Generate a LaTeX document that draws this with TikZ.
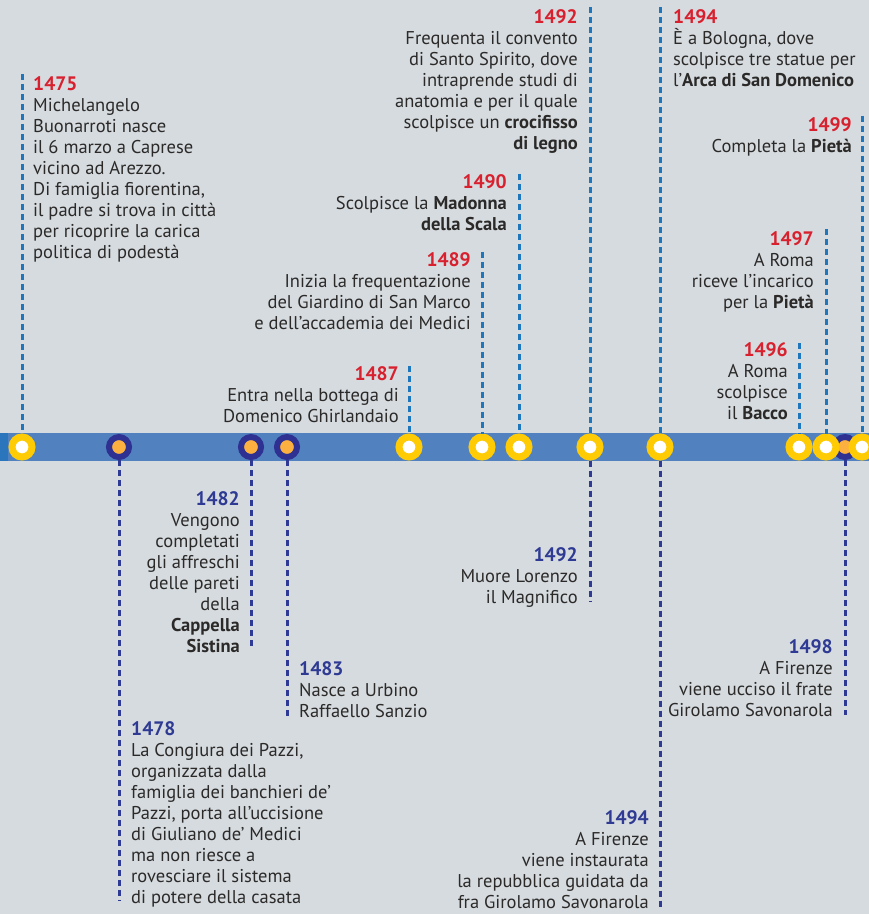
\documentclass[tikz,border=0pt]{standalone}
\usepackage{fontspec}
\setmainfont{PT Sans}
\usetikzlibrary{positioning}

\definecolor{bgGray}{HTML}{D6DBDF}
\definecolor{barBlue}{HTML}{5281C0}
\definecolor{barEdge}{HTML}{2A75BB}
\definecolor{topLine}{HTML}{1E76BD}
\definecolor{botLine}{HTML}{2E3A93}
\definecolor{yearRed}{HTML}{D8202E}
\definecolor{yearNavy}{HTML}{2E3A93}
\definecolor{ringYellow}{HTML}{FFCB05}
\definecolor{ringNavy}{HTML}{2E3192}
\definecolor{dotOrange}{HTML}{FBB040}
\definecolor{txtGray}{HTML}{2B2A29}

\newcommand{\yred}[1]{{\fontsize{19.5}{21}\selectfont\textcolor{yearRed}{\textbf{#1}}}}
\newcommand{\ynavy}[1]{{\fontsize{19.5}{21}\selectfont\textcolor{yearNavy}{\textbf{#1}}}}

\begin{document}
\begin{tikzpicture}[
    % GLOBAL CFG
    x=1pt, y=-1pt,
    font=\fontsize{18.5}{21}\selectfont,
    % Styles
    ylw/.style={% yellow marker on the bar
        circle,
        draw=ringYellow,
        fill=white,
        line width=7pt,
        minimum size=20pt,
        inner sep=0pt,
        },
    nvy/.style={% navy marker on the bar
        circle,
        draw=ringNavy,
        fill=dotOrange,
        line width=6pt,
        minimum size=20pt,
        inner sep=0pt,
        },
    upline/.style={% dashed lines above the bar
        draw=topLine,
        line width=3pt,
        dash pattern=on 6pt off 4pt,
        },
    downline/.style={% dashed lines below the bar
        draw=botLine,
        line width=3pt,
        dash pattern=on 6pt off 4pt,
        },
    evR/.style={% text flushed right
        inner sep=0pt,
        align=right,
        anchor=north east,
        text=txtGray,
        },
    evL/.style={% text flushed left
        inner sep=0pt,
        align=left,
        anchor=north west,
        text=txtGray,
        },
    ]

%Background and bar
    \fill[bgGray] (0,0) rectangle (869,914);
    \useasboundingbox (0,0) rectangle (869,914);
    \fill[barBlue] (0,433) rectangle (869,461);
    \fill[barEdge] (0,433) rectangle (8,461);

    % Markers, navy ones first (they lie under the yellow ones)
    \node [nvy] (m1478) at (119,447) {};
    \node [nvy] (m1482) at (251,447) {};
    \node [nvy] (m1483) at (287,447) {};
    \node [nvy] (m1498) at (845,447) {};
    \node [ylw] (m1475) at (22,447) {};
    \node [ylw] (m1487) at (409,447) {};
    \node [ylw] (m1489) at (482,447) {};
    \node [ylw] (m1490) at (519,447) {};
    \node [ylw] (m1492) at (590,447) {};
    \node [ylw] (m1494) at (660,447) {};
    \node [ylw] (m1496) at (799,447) {};
    \node [ylw] (m1497) at (826,447) {};
    \node [ylw] (m1499) at (862,447) {};

    % Free ends of the dashed lines
    \coordinate (t1475) at (22,74);
    \coordinate (t1487) at (409,366);
    \coordinate (t1489) at (482,252);
    \coordinate (t1490) at (519,174);
    \coordinate (t1492) at (590,7);
    \coordinate (t1494) at (660,7);
    \coordinate (t1496) at (799,343);
    \coordinate (t1497) at (826,229);
    \coordinate (t1499) at (862,116);
    \coordinate (b1478) at (119,901);
    \coordinate (b1482) at (251,648);
    \coordinate (b1483) at (287,716);
    \coordinate (b1492) at (590,601);
    \coordinate (b1494) at (660,910);
    \coordinate (b1498) at (845,715);

% Dashed lines
    \draw [upline] (t1475) -- (m1475);
    \draw [upline] (t1487) -- (m1487);
    \draw [upline] (t1489) -- (m1489);
    \draw [upline] (t1490) -- (m1490);
    \draw [upline] (t1492) -- (m1492);
    \draw [upline] (t1494) -- (m1494);
    \draw [upline] (t1496) -- (m1496);
    \draw [upline] (t1497) -- (m1497);
    \draw [upline] (t1499) -- (m1499);
    \draw [downline] (m1478) -- (b1478);
    \draw [downline] (m1482) -- (b1482);
    \draw [downline] (m1483) -- (b1483);
    \draw [downline] (m1492) -- (b1492);
    \draw [downline] (m1494) -- (b1494);
    \draw [downline] (m1498) -- (b1498);

% Events above the bar
    \node [evL] (e1475) at (33,76) {\yred{1475}\\Michelangelo\\Buonarroti nasce\\il 6 marzo a Caprese\\vicino ad Arezzo.\\Di famiglia fiorentina,\\il padre si trova in città\\per ricoprire la carica\\politica di podestà};
    \node [evR] (e1487) at (399,366) {\yred{1487}\\Entra nella bottega di\\Domenico Ghirlandaio};
    \node [evR] (e1489) at (471,252) {\yred{1489}\\Inizia la frequentazione\\del Giardino di San Marco\\e dell’accademia dei Medici};
    \node [evR] (e1490) at (507,174) {\yred{1490}\\Scolpisce la \textbf{Madonna}\\\textbf{della Scala}};
    \node [evR] (e1492a) at (578,9) {\yred{1492}\\Frequenta il convento\\di Santo Spirito, dove\\intraprende studi di\\anatomia e per il quale\\scolpisce un \textbf{crocifisso}\\\textbf{di legno}};
    \node [evL] (e1494a) at (673,9) {\yred{1494}\\È a Bologna, dove\\scolpisce tre statue per\\l’\textbf{Arca di San Domenico}};
    \node [evR] (e1499) at (852,117) {\yred{1499}\\Completa la \textbf{Pietà}};
    \node [evR] (e1497) at (814,231) {\yred{1497}\\A Roma\\riceve l’incarico\\per la \textbf{Pietà}};
    \node [evR] (e1496) at (788,342) {\yred{1496}\\A Roma\\scolpisce\\il \textbf{Bacco}};

% Events below the bar
    \node [evR] (e1482) at (240,491) {\ynavy{1482}\\Vengono\\completati\\gli affreschi\\delle pareti\\della\\\textbf{Cappella}\\\textbf{Sistina}};
    \node [evL] (e1483) at (299,661) {\ynavy{1483}\\Nasce a Urbino\\Raffaello Sanzio};
    \node [evL] (e1478) at (131,721) {\ynavy{1478}\\La Congiura dei Pazzi,\\organizzata dalla\\famiglia dei banchieri de’\\Pazzi, porta all’uccisione\\di Giuliano de’ Medici\\ma non riesce a\\rovesciare il sistema\\di potere della casata};
    \node [evR] (e1492b) at (578,547) {\ynavy{1492}\\Muore Lorenzo\\il Magnifico};
    \node [evR] (e1494b) at (649,810) {\ynavy{1494}\\A Firenze\\viene instaurata\\la repubblica guidata da\\fra Girolamo Savonarola};
    \node [evR] (e1498) at (833,639) {\ynavy{1498}\\A Firenze\\viene ucciso il frate\\Girolamo Savonarola};

\end{tikzpicture}
\end{document}
